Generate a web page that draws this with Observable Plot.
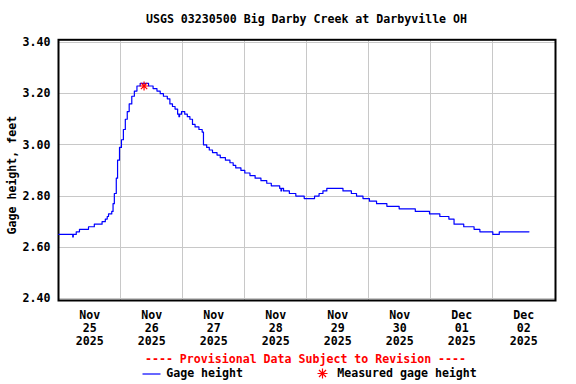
<!DOCTYPE html>
<html>
<head>
<meta charset="utf-8">
<script src="https://cdn.jsdelivr.net/npm/d3@7"></script>
<script src="https://cdn.jsdelivr.net/npm/@observablehq/plot@0.6"></script>
<style>
  html, body { margin: 0; padding: 0; background: #fff; }
</style>
</head>
<body>
<div id="chart"></div>
<script>
// ---- Data ----
const titleText = "USGS 03230500 Big Darby Creek at Darbyville OH";
const yLabel = "Gage height, feet";
const captionText = "---- Provisional Data Subject to Revision ----";
const legendLine = "Gage height";
const legendStar = "Measured gage height";

const times = [
  "2025-11-25T00:00","2025-11-25T05:24","2025-11-25T05:36","2025-11-25T06:45","2025-11-25T08:00",
  "2025-11-25T11:30","2025-11-25T13:45","2025-11-25T16:45","2025-11-25T18:00","2025-11-25T18:45",
  "2025-11-25T19:15","2025-11-25T20:30","2025-11-25T21:00","2025-11-25T21:30","2025-11-25T22:15",
  "2025-11-25T22:45","2025-11-25T23:30",
  "2025-11-26T00:15","2025-11-26T01:00","2025-11-26T01:45","2025-11-26T02:30","2025-11-26T03:15",
  "2025-11-26T04:15","2025-11-26T05:15","2025-11-26T06:15","2025-11-26T07:30","2025-11-26T10:45",
  "2025-11-26T12:30","2025-11-26T14:00","2025-11-26T15:15","2025-11-26T16:30","2025-11-26T18:00",
  "2025-11-26T19:00","2025-11-26T20:00","2025-11-26T21:00","2025-11-26T22:00","2025-11-26T22:30",
  "2025-11-26T22:45","2025-11-26T23:30",
  "2025-11-27T00:45","2025-11-27T01:45","2025-11-27T02:45","2025-11-27T03:45","2025-11-27T04:45",
  "2025-11-27T06:15","2025-11-27T07:30","2025-11-27T08:00","2025-11-27T09:15","2025-11-27T10:15",
  "2025-11-27T11:30","2025-11-27T13:15","2025-11-27T14:30","2025-11-27T16:30","2025-11-27T18:15",
  "2025-11-27T19:30","2025-11-27T20:30","2025-11-27T22:30","2025-11-28T00:00",
  "2025-11-28T02:00","2025-11-28T04:00","2025-11-28T06:15","2025-11-28T08:30","2025-11-28T10:15",
  "2025-11-28T13:30","2025-11-28T14:00","2025-11-28T14:15","2025-11-28T15:00","2025-11-28T17:15",
  "2025-11-28T19:45","2025-11-28T23:00",
  "2025-11-29T03:00","2025-11-29T04:45","2025-11-29T06:15","2025-11-29T07:45","2025-11-29T14:00",
  "2025-11-29T17:15","2025-11-29T19:15","2025-11-29T21:45","2025-11-30T00:15",
  "2025-11-30T03:00","2025-11-30T07:00","2025-11-30T11:45","2025-11-30T18:00","2025-11-30T23:30",
  "2025-12-01T03:30","2025-12-01T07:00","2025-12-01T09:00","2025-12-01T12:45","2025-12-01T16:45",
  "2025-12-01T19:00","2025-12-02T00:00",
  "2025-12-02T02:30","2025-12-02T14:00"
];
const heights = [
  2.65,2.64,2.65,2.66,2.67,
  2.68,2.69,2.70,2.71,2.72,
  2.73,2.74,2.77,2.81,2.87,
  2.94,2.99,
  3.02,3.06,3.10,3.13,3.16,
  3.19,3.21,3.23,3.24,3.23,
  3.22,3.21,3.20,3.19,3.18,
  3.16,3.15,3.14,3.12,3.11,
  3.12,3.13,
  3.12,3.11,3.10,3.08,3.07,
  3.06,3.05,3.00,2.99,2.98,
  2.97,2.96,2.95,2.94,2.93,
  2.92,2.91,2.90,2.89,
  2.88,2.87,2.86,2.85,2.84,
  2.83,2.82,2.83,2.82,2.81,
  2.80,2.79,
  2.80,2.81,2.82,2.83,2.82,
  2.81,2.80,2.79,2.78,
  2.77,2.76,2.75,2.74,2.73,
  2.72,2.71,2.69,2.68,2.67,
  2.66,2.65,
  2.66,2.66
];

const measuredTimes = ["2025-11-26T09:00"];
const measuredHeights = [3.23];

const yTicks = [2.40, 2.60, 2.80, 3.00, 3.20, 3.40];
const dayMidnights = ["2025-11-26","2025-11-27","2025-11-28","2025-11-29","2025-11-30","2025-12-01","2025-12-02"];
const tickNoons = ["2025-11-25T12:00","2025-11-26T12:00","2025-11-27T12:00","2025-11-28T12:00",
                   "2025-11-29T12:00","2025-11-30T12:00","2025-12-01T12:00","2025-12-02T12:00"];
const tickMonths = ["Nov","Nov","Nov","Nov","Nov","Nov","Dec","Dec"];
const tickDays = ["25","26","27","28","29","30","01","02"];
const tickYears = ["2025","2025","2025","2025","2025","2025","2025","2025"];

// ---- Build ----
const utc = s => new Date(s + (s.length === 10 ? "T00:00" : "") + "Z");
const series = times.map((t, i) => ({t: utc(t), v: heights[i]}));
const measured = measuredTimes.map((t, i) => ({t: utc(t), v: measuredHeights[i]}));
const ticksX = tickNoons.map((t, i) => ({t: utc(t), label: tickMonths[i] + "\n" + tickDays[i] + "\n" + tickYears[i]}));

const star8 = {
  draw(context, size) {
    const r = Math.sqrt(size / Math.PI);
    for (let k = 0; k < 4; ++k) {
      const a = k * Math.PI / 4;
      context.moveTo(-r * Math.cos(a), -r * Math.sin(a));
      context.lineTo(r * Math.cos(a), r * Math.sin(a));
    }
  }
};
const hline = {
  draw(context, size) {
    const r = Math.sqrt(size / Math.PI);
    context.moveTo(-r, 0);
    context.lineTo(r, 0);
  }
};

const font = "'DejaVu Sans Mono', monospace";

const chart = Plot.plot({
  width: 576,
  height: 384,
  marginLeft: 58,
  marginRight: 21,
  marginTop: 39.3,
  marginBottom: 84,
  style: {fontFamily: font, fontSize: "11.6px", fontWeight: "bold", background: "#fff", color: "#000"},
  x: {type: "utc", domain: [utc("2025-11-25T00:00"), utc("2025-12-03T00:00")], range: [58.3, 554.3], axis: null},
  y: {domain: [2.40, 3.40], range: [297.9, 42], axis: null},
  marks: [
    Plot.gridY(yTicks, {stroke: "#c8c8c8", strokeOpacity: 1, shapeRendering: "crispEdges"}),
    Plot.gridX(dayMidnights.map(utc), {stroke: "#c8c8c8", strokeOpacity: 1, shapeRendering: "crispEdges"}),
    Plot.frame({stroke: "#000", strokeWidth: 2}),
    Plot.axisY(yTicks, {tickSize: 0, tickPadding: 8, tickFormat: d3.format(".2f"), label: null, fill: "#000"}),
    Plot.text(ticksX, {x: "t", text: "label", frameAnchor: "bottom", lineAnchor: "top", dy: 9, lineHeight: 1.12, fill: "#000"}),
    Plot.line(series, {x: "t", y: "v", curve: "step-after", stroke: "#0000ff", strokeWidth: 1.2}),
    Plot.dot(measured, {x: "t", y: "v", symbol: star8, r: 4.5, fill: "none", stroke: "#ff0000", strokeWidth: 1.2}),
    // title, axis label, caption, legend
    Plot.text([titleText], {frameAnchor: "top", lineAnchor: "middle", dx: -0.5, dy: -20.3, fill: "#000"}),
    Plot.text([yLabel], {frameAnchor: "left", rotate: -90, textAnchor: "middle", lineAnchor: "middle", dx: -46, dy: 5, fill: "#000"}),
    Plot.text([captionText], {frameAnchor: "bottom", lineAnchor: "middle", dx: -1.5, dy: 58.7, fill: "#ff0000"}),
    Plot.dot([0], {frameAnchor: "bottom-left", dx: 93, dy: 73.5, symbol: hline, r: 9, fill: "none", stroke: "#0000ff", strokeWidth: 1.2}),
    Plot.text([legendLine], {frameAnchor: "bottom-left", lineAnchor: "middle", dx: 107.7, dy: 73, textAnchor: "start", fill: "#000"}),
    Plot.dot([0], {frameAnchor: "bottom-left", dx: 264, dy: 73, symbol: star8, r: 5, fill: "none", stroke: "#ff0000", strokeWidth: 1.2}),
    Plot.text([legendStar], {frameAnchor: "bottom-left", lineAnchor: "middle", dx: 278.7, dy: 73, textAnchor: "start", fill: "#000"})
  ]
});
document.getElementById("chart").appendChild(chart);
</script>
</body>
</html>
